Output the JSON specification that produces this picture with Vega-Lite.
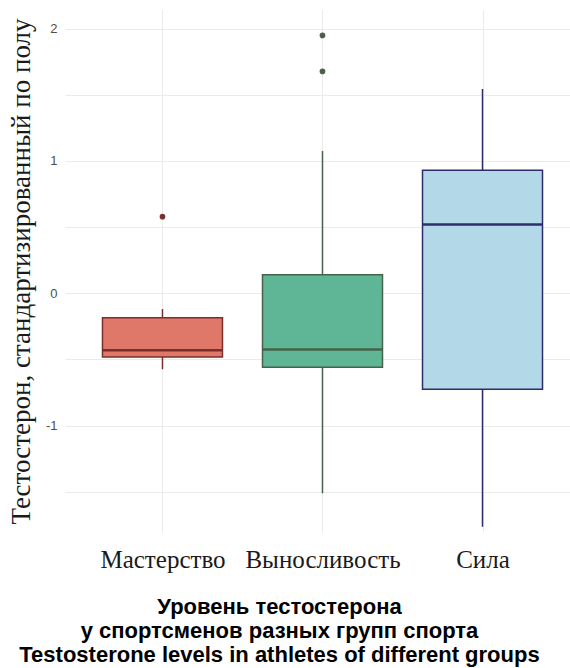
{
  "$schema": "https://vega.github.io/schema/vega-lite/v6.json",
  "width": 505,
  "height": 522,
  "autosize": {"type": "none"},
  "padding": {"left": 65, "top": 10, "right": 0, "bottom": 136},
  "background": "white",
  "datasets": {
    "stats": [
      {"group": "Мастерство", "lower": -0.574, "q1": -0.481, "median": -0.431, "q3": -0.184, "upper": -0.119},
      {"group": "Выносливость", "lower": -1.512, "q1": -0.558, "median": -0.424, "q3": 0.141, "upper": 1.075},
      {"group": "Сила", "lower": -1.764, "q1": -0.726, "median": 0.52, "q3": 0.93, "upper": 1.544}
    ],
    "outliers": [
      {"group": "Мастерство", "value": 0.579},
      {"group": "Выносливость", "value": 1.949},
      {"group": "Выносливость", "value": 1.677}
    ]
  },
  "config": {
    "view": {"stroke": null},
    "axis": {"domain": false, "ticks": false, "gridColor": "#ebebeb", "gridWidth": 1}
  },
  "encoding": {
    "x": {
      "field": "group",
      "type": "nominal",
      "sort": ["Мастерство", "Выносливость", "Сила"],
      "scale": {"type": "point", "padding": 0.578, "align": 0.527},
      "axis": {
        "labelAngle": 0,
        "labelFont": "Liberation Serif",
        "labelFontSize": 25,
        "labelColor": "#1a1a1a",
        "labelBaseline": "alphabetic",
        "labelPadding": 35,
        "grid": true,
        "title": ["Уровень тестостерона", "у спортсменов разных групп спорта", "Testosterone levels in athletes of different groups"],
        "titleFont": "Liberation Sans",
        "titleFontSize": 22,
        "titleFontWeight": "bold",
        "titleColor": "#000000",
        "titleLineHeight": 24,
        "titleX": 214,
        "titleY": 81,
        "titleBaseline": "alphabetic",
        "titleAlign": "center"
      }
    }
  },
  "layer": [
    {
      "data": {"name": "stats"},
      "mark": {"type": "rule", "strokeWidth": 1.5},
      "encoding": {
        "y": {
          "field": "lower",
          "type": "quantitative",
          "scale": {"domain": [-1.804, 2.141], "nice": false, "zero": false},
          "axis": {
            "values": [-1.5, -1, -0.5, 0, 0.5, 1, 1.5, 2],
            "labelExpr": "datum.value % 1 === 0 ? '' + datum.value : ''",
            "labelFont": "Liberation Sans",
            "labelFontSize": 13,
            "labelColor": "#4d4d4d",
            "labelPadding": 8,
            "grid": true,
            "title": "Тестостерон, стандартизированный по полу",
            "titleFont": "Liberation Serif",
            "titleFontSize": 27,
            "titleFontWeight": "normal",
            "titleColor": "#1a1a1a",
            "titlePadding": 10
          }
        },
        "y2": {"field": "upper"},
        "stroke": {
          "field": "group",
          "type": "nominal",
          "scale": {"domain": ["Мастерство", "Выносливость", "Сила"], "range": ["#7a2f2c", "#46634a", "#2e2c6b"]},
          "legend": null
        }
      }
    },
    {
      "data": {"name": "stats"},
      "mark": {"type": "bar", "width": 120, "strokeWidth": 1.5},
      "encoding": {
        "y": {"field": "q1", "type": "quantitative"},
        "y2": {"field": "q3"},
        "fill": {
          "field": "group",
          "type": "nominal",
          "scale": {"domain": ["Мастерство", "Выносливость", "Сила"], "range": ["#e0786a", "#5fb697", "#b3d9e8"]},
          "legend": null
        },
        "stroke": {"field": "group", "type": "nominal", "legend": null},
        "fillOpacity": {"value": 1}
      }
    },
    {
      "data": {"name": "stats"},
      "mark": {"type": "tick", "size": 120, "thickness": 2.5, "opacity": 1},
      "encoding": {
        "y": {"field": "median", "type": "quantitative"},
        "color": {
          "field": "group",
          "type": "nominal",
          "scale": {"domain": ["Мастерство", "Выносливость", "Сила"], "range": ["#7a2f2c", "#46634a", "#2e2c6b"]},
          "legend": null
        }
      }
    },
    {
      "data": {"name": "outliers"},
      "mark": {"type": "point", "filled": true, "size": 32, "opacity": 1},
      "encoding": {
        "y": {"field": "value", "type": "quantitative"},
        "color": {"field": "group", "type": "nominal", "legend": null}
      }
    }
  ],
  "resolve": {"scale": {"color": "shared"}}
}
